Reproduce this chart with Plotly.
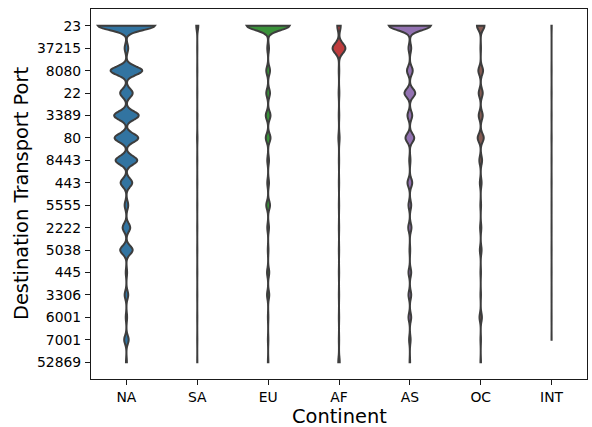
import numpy as np
import plotly.graph_objects as go

# ---- data (estimated counts of connections per destination port, per continent) ----
ports = ["23", "37215", "8080", "22", "3389", "80", "8443", "443",
         "5555", "2222", "5038", "445", "3306", "6001", "7001", "52869"]
continents = ["NA", "SA", "EU", "AF", "AS", "OC", "INT"]

counts_na = [2540, 160, 1420, 560, 1100, 1060, 970, 520, 160, 340, 560, 60, 160, 60, 200, 40]
counts_sa = [156, 12, 12, 12, 12, 31, 12, 12, 12, 12, 12, 12, 12, 12, 12, 12]
counts_eu = [4175, 166, 362, 362, 460, 460, 166, 166, 362, 166, 68, 215, 215, 49, 49, 49]
counts_af = [328, 1225, 48, 68, 48, 116, 29, 29, 29, 29, 29, 29, 29, 29, 29, 135]
counts_as = [3150, 204, 431, 809, 355, 658, 91, 355, 204, 242, 53, 204, 204, 204, 113, 38]
counts_oc = [246, 17, 156, 133, 133, 200, 90, 57, 23, 40, 57, 17, 17, 80, 17, 17]
counts_int = [10, 0, 4, 5, 4, 6, 3, 4, 2, 2, 3, 3, 2, 2, 3, 0]

all_counts = [counts_na, counts_sa, counts_eu, counts_af, counts_as, counts_oc, counts_int]

x_title = "Continent"
y_title = "Destination Transport Port"

# ---- style ----
colors = ["#3274a1", "#e1812c", "#3a923a", "#c03d3e", "#9372b2", "#845b53", "#d684bd"]
bandwidths = [0.19, 0.19, 0.19, 0.22, 0.19, 0.19, 0.19]
edge = "#3d3d3d"
font_family = "DejaVu Sans"

totals = [sum(c) for c in all_counts]
max_total = max(totals)

fig = go.Figure()
for i, (cont, cnt) in enumerate(zip(continents, all_counts)):
    samples = np.repeat(np.arange(len(ports)), cnt)
    w = 0.8 * totals[i] / max_total  # seaborn scale="count"
    fig.add_trace(go.Violin(
        y=samples,
        x0=i,
        name=cont,
        width=max(w, 0.003),
        bandwidth=bandwidths[i],
        spanmode="hard",
        points=False,
        box_visible=False,
        meanline_visible=False,
        fillcolor=colors[i],
        line=dict(color=edge, width=2),
        opacity=1,
        showlegend=False,
        hoverinfo="skip",
    ))

axis_common = dict(
    showline=True, linecolor="#1a1a1a", linewidth=1.1, mirror=True,
    ticks="outside", ticklen=5, tickwidth=1.1, tickcolor="#1a1a1a",
    showgrid=False, zeroline=False, automargin=False,
    tickfont=dict(family=font_family, size=13.9, color="black"),
)

fig.update_layout(
    width=592, height=427,
    margin=dict(l=91, r=5, t=9, b=48),
    paper_bgcolor="white", plot_bgcolor="white",
    violinmode="overlay",
    font=dict(family=font_family, color="black"),
    xaxis=dict(
        **axis_common,
        tickmode="array", tickvals=list(range(len(continents))), ticktext=continents,
        range=[-0.5, len(continents) - 0.5],
    ),
    yaxis=dict(
        **axis_common,
        tickmode="array", tickvals=list(range(len(ports))), ticktext=ports,
        range=[len(ports) - 0.25, -0.75],
        ticklabelstandoff=1,
    ),
    annotations=[
        dict(text=x_title, xref="paper", yref="paper", x=0.5, y=0,
             xanchor="center", yanchor="middle", yshift=-37, showarrow=False,
             font=dict(family=font_family, size=19.4, color="black")),
        dict(text=y_title, xref="paper", yref="paper", x=0, y=0.5,
             xanchor="center", yanchor="middle", xshift=-70, textangle=-90,
             showarrow=False,
             font=dict(family=font_family, size=19.4, color="black")),
    ],
)

post = ("document.body.style.margin='0';document.body.style.padding='0';"
        "document.body.style.overflow='hidden';")
fig.write_html("out.html", post_script=post,
               config={"responsive": False, "displayModeBar": False})
